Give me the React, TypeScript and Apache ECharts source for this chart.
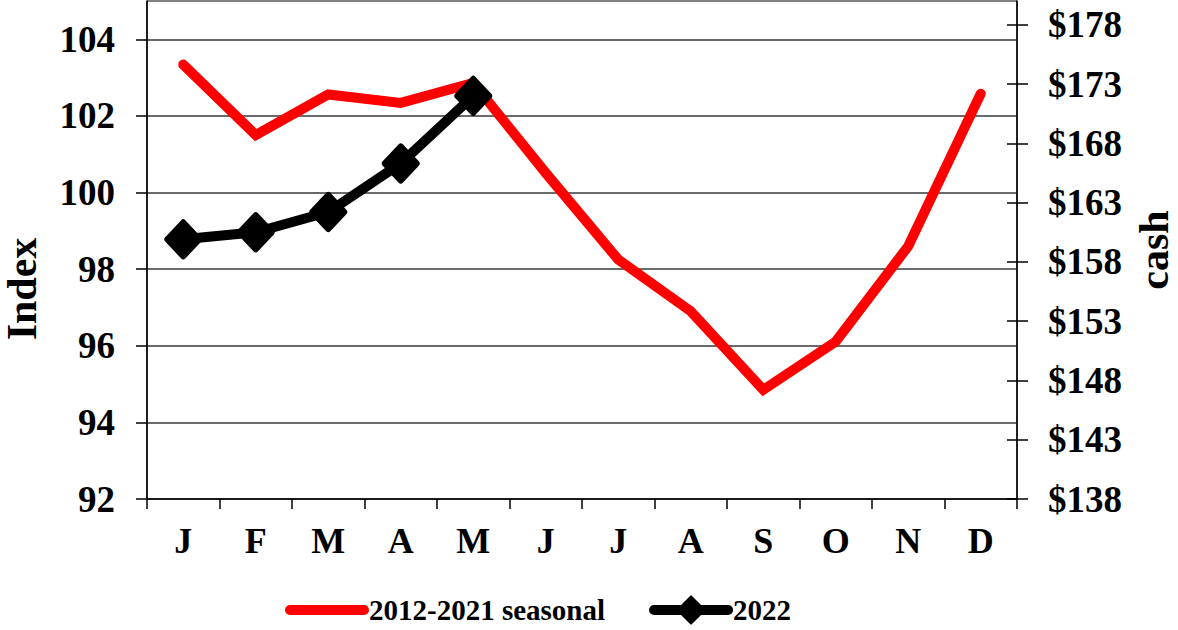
import React, { useEffect, useRef } from "react";
import * as echarts from "echarts";

const months = ["J", "F", "M", "A", "M", "J", "J", "A", "S", "O", "N", "D"];
const seasonal = [103.34, 101.5, 102.56, 102.34, 102.86, 100.51, 98.25, 96.9, 94.85, 96.11, 98.6, 102.58];
const cash2022 = [159.9, 160.5, 162.2, 166.3, 172.0];
const indexTicks = [92, 94, 96, 98, 100, 102, 104];
const cashTicks = [138, 143, 148, 153, 158, 163, 168, 173, 178];

const FONT = "'Liberation Serif', 'Times New Roman', serif";

export default function App() {
  const ref = useRef<HTMLDivElement>(null);
  useEffect(() => {
    if (!ref.current) return;
    const chart = echarts.init(ref.current, null, { renderer: "svg" });
    const labelStyle = { fontFamily: FONT, fontWeight: "bold" as const, fontSize: 37, color: "#000" };
    chart.setOption({
      animation: false,
      backgroundColor: "#fff",
      grid: {
        left: 147,
        right: 161,
        top: 1,
        bottom: 131,
        show: true,
        borderColor: "#000",
        borderWidth: 1,
        containLabel: false,
        outerBoundsMode: "none",
      },
      legend: {
        left: 285,
        top: 595,
        padding: 0,
        itemWidth: 74,
        itemHeight: 34,
        itemGap: 44,
        textStyle: { fontFamily: FONT, fontWeight: "bold", fontSize: 29, lineHeight: 30, color: "#000" },
        lineStyle: { width: 10, cap: "round" },
        data: [
          { name: "2012-2021 seasonal", itemStyle: { opacity: 0 } },
          { name: "2022" },
        ],
      },
      xAxis: {
        type: "category",
        data: months,
        boundaryGap: true,
        axisLine: { lineStyle: { color: "#000", width: 1.5 } },
        axisTick: { show: true, length: 10, inside: false, lineStyle: { color: "#000", width: 1.5 } },
        axisLabel: { ...labelStyle, fontSize: 36, margin: 24, interval: 0 },
        splitLine: { show: false },
      },
      yAxis: [
        {
          type: "value",
          position: "left",
          min: 92,
          max: 105,
          interval: 2,
          name: "Index",
          nameLocation: "middle",
          nameRotate: 90,
          nameGap: 108,
          nameTextStyle: {
            fontFamily: FONT,
            fontWeight: "bold",
            fontSize: 42,
            lineHeight: 34,
            color: "#000",
            padding: [0, 78, 0, 0],
          },
          axisLine: { show: true, lineStyle: { color: "#000", width: 1.5 } },
          axisTick: { show: true, length: 11, inside: false, customValues: indexTicks, lineStyle: { color: "#000", width: 1.5 } },
          axisLabel: { ...labelStyle, margin: 32, customValues: indexTicks },
          splitLine: { show: true, lineStyle: { color: "#6a6a6a", width: 2 } },
        },
        {
          type: "value",
          position: "right",
          min: 138,
          max: 180,
          name: "cash",
          nameLocation: "middle",
          nameRotate: 90,
          nameGap: 118,
          nameTextStyle: { fontFamily: FONT, fontWeight: "bold", fontSize: 42, lineHeight: 34, color: "#000" },
          axisLine: { show: true, lineStyle: { color: "#000", width: 1.5 } },
          axisTick: { show: true, length: 11, inside: false, customValues: cashTicks, lineStyle: { color: "#000", width: 1.5 } },
          axisLabel: {
            ...labelStyle,
            margin: 31,
            customValues: cashTicks,
            formatter: (v: number) => "$" + v,
          },
          splitLine: { show: false },
        },
        {
          type: "value",
          position: "right",
          min: 138,
          max: 180,
          axisLine: { show: false },
          axisTick: { show: true, length: 10, inside: true, customValues: cashTicks, lineStyle: { color: "#000", width: 1.5 } },
          axisLabel: { show: false },
          splitLine: { show: false },
        },
      ],
      series: [
        {
          name: "2012-2021 seasonal",
          type: "line",
          yAxisIndex: 0,
          data: seasonal,
          symbol: "none",
          itemStyle: { color: "#ff0000" },
          lineStyle: { color: "#ff0000", width: 10, cap: "round", join: "miter" },
          z: 2,
        },
        {
          name: "2022",
          type: "line",
          yAxisIndex: 1,
          data: cash2022,
          symbol: "diamond",
          symbolSize: [32, 34],
          itemStyle: { color: "#000", borderColor: "#000", borderWidth: 6, borderJoin: "round" },
          lineStyle: { color: "#000", width: 10, cap: "round", join: "round" },
          z: 3,
        },
      ],
    });
    return () => chart.dispose();
  }, []);
  return (
    <div
      ref={ref}
      style={{ position: "fixed", left: 0, top: 0, width: 1178, height: 630, background: "#fff" }}
    />
  );
}
